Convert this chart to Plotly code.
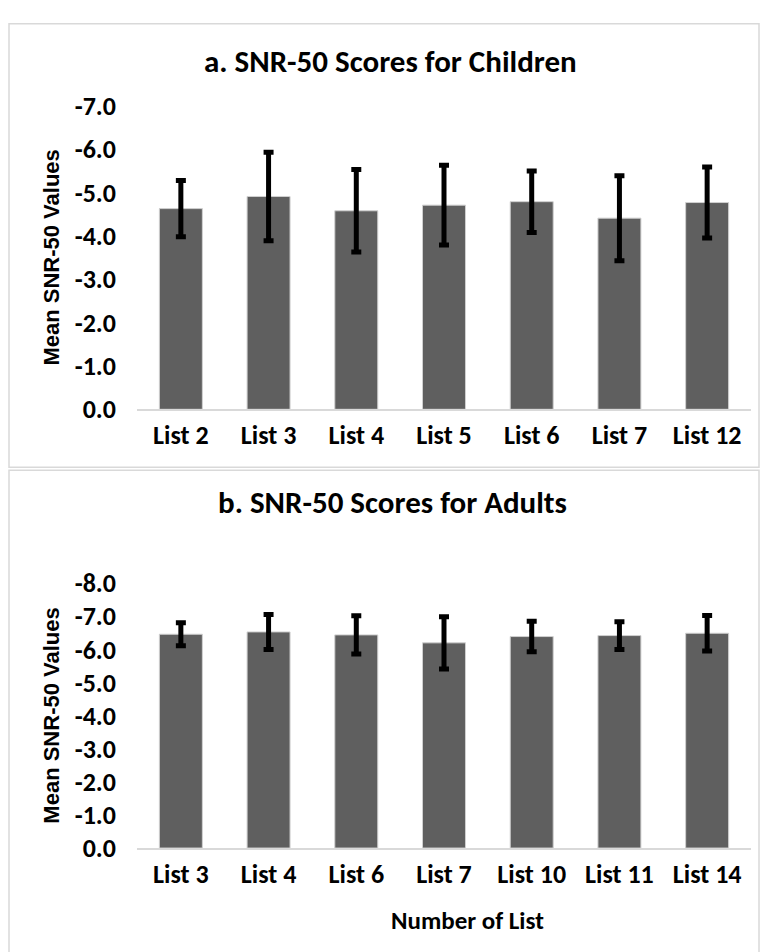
import plotly.graph_objects as go

# ---- data ----
children_lists = ["List 2", "List 3", "List 4", "List 5", "List 6", "List 7", "List 12"]
children_mean = [-4.63, -4.91, -4.58, -4.71, -4.79, -4.41, -4.77]
children_sd = [0.65, 1.02, 0.95, 0.92, 0.71, 0.98, 0.82]

adult_lists = ["List 3", "List 4", "List 6", "List 7", "List 10", "List 11", "List 14"]
adult_mean = [-6.46, -6.53, -6.44, -6.20, -6.39, -6.42, -6.49]
adult_sd = [0.35, 0.53, 0.58, 0.79, 0.46, 0.42, 0.54]

children_ticks = [0, -1, -2, -3, -4, -5, -6, -7]
children_ticktext = ["0.0", "-1.0", "-2.0", "-3.0", "-4.0", "-5.0", "-6.0", "-7.0"]
adult_ticks = [0, -1, -2, -3, -4, -5, -6, -7, -8]
adult_ticktext = ["0.0", "-1.0", "-2.0", "-3.0", "-4.0", "-5.0", "-6.0", "-7.0", "-8.0"]

title_a = "a. SNR-50 Scores for Children"
title_b = "b. SNR-50 Scores for Adults"
y_title = "Mean SNR-50 Values"
x_title = "Number of List"

# ---- style ----
W, H = 765, 952
BAR = "#5f5f5f"
GRID = "#d9d9d9"
NARROW = "Carlito, 'Liberation Sans Narrow', 'DejaVu Sans Condensed', 'Arial Narrow', sans-serif"
WIDE = "'Liberation Sans', Arial, sans-serif"

def px_x(p):
    return p / W

def px_y(p):
    return 1 - p / H

fig = go.Figure()

err_style = dict(type="data", symmetric=True, color="black", thickness=5, width=5)

fig.add_trace(go.Bar(
    x=children_lists, y=children_mean,
    error_y=dict(array=children_sd, **err_style),
    marker=dict(color=BAR, line=dict(color="#d0d0d0", width=1)),
    xaxis="x", yaxis="y", showlegend=False, hoverinfo="skip",
))
fig.add_trace(go.Bar(
    x=adult_lists, y=adult_mean,
    error_y=dict(array=adult_sd, **err_style),
    marker=dict(color=BAR, line=dict(color="#d0d0d0", width=1)),
    xaxis="x2", yaxis="y2", showlegend=False, hoverinfo="skip",
))

tickfont = dict(family=NARROW, size=26, color="black", weight="bold")

xdom = [px_x(137), px_x(751)]
fig.update_layout(
    width=W, height=H, autosize=False,
    margin=dict(l=0, r=0, t=0, b=0),
    paper_bgcolor="white", plot_bgcolor="white",
    bargap=0.51,
    xaxis=dict(domain=xdom, anchor="y", showline=True, linecolor=GRID, linewidth=1.5,
               ticks="", tickfont=tickfont, showgrid=False, ticklabelstandoff=2),
    yaxis=dict(domain=[px_y(407), px_y(93)], anchor="x", range=[0, -7],
               tickvals=children_ticks, ticktext=children_ticktext,
               showgrid=False, zeroline=False, showline=False, ticks="",
               tickfont=tickfont, ticklabelstandoff=20),
    xaxis2=dict(domain=xdom, anchor="y2", showline=True, linecolor=GRID, linewidth=1.5,
                ticks="", tickfont=tickfont, showgrid=False, ticklabelstandoff=2),
    yaxis2=dict(domain=[px_y(861), px_y(587)], anchor="x2", range=[0, -8],
                tickvals=adult_ticks, ticktext=adult_ticktext,
                showgrid=False, zeroline=False, showline=False, ticks="",
                tickfont=tickfont, ticklabelstandoff=20),
    shapes=[
        dict(type="rect", xref="paper", yref="paper",
             x0=px_x(9), x1=px_x(759), y0=px_y(467), y1=px_y(8),
             line=dict(color=GRID, width=1.5), fillcolor="rgba(0,0,0,0)", layer="below"),
        dict(type="rect", xref="paper", yref="paper",
             x0=px_x(9), x1=px_x(759), y0=px_y(1000), y1=px_y(470),
             line=dict(color=GRID, width=1.5), fillcolor="rgba(0,0,0,0)", layer="below"),
    ],
)

ann_font_title = dict(family=NARROW, size=31, color="black", weight="bold")
ann_font_axis = dict(family=WIDE, size=22, color="black", weight="bold")

annotations = [
    dict(text=title_a, x=px_x(391), y=px_y(47), xref="paper", yref="paper",
         showarrow=False, font=ann_font_title, xanchor="center", yanchor="middle"),
    dict(text=title_b, x=px_x(393), y=px_y(503), xref="paper", yref="paper",
         showarrow=False, font=ann_font_title, xanchor="center", yanchor="middle"),
    dict(text=y_title, x=px_x(52), y=px_y(250), xref="paper", yref="paper", textangle=-90,
         showarrow=False, font=ann_font_axis, xanchor="center", yanchor="middle"),
    dict(text=y_title, x=px_x(52), y=px_y(724), xref="paper", yref="paper", textangle=-90,
         showarrow=False, font=ann_font_axis, xanchor="center", yanchor="middle"),
    dict(text=x_title, x=px_x(467), y=px_y(936), xref="paper", yref="paper",
         showarrow=False, font=dict(family=NARROW, size=25, color="black", weight="bold"),
         xanchor="center", yanchor="middle"),
]
fig.update_layout(annotations=annotations)

fig.write_html("out.html",
               config={"displayModeBar": False},
               post_script="document.body.style.margin='0';document.body.style.overflow='hidden';")
